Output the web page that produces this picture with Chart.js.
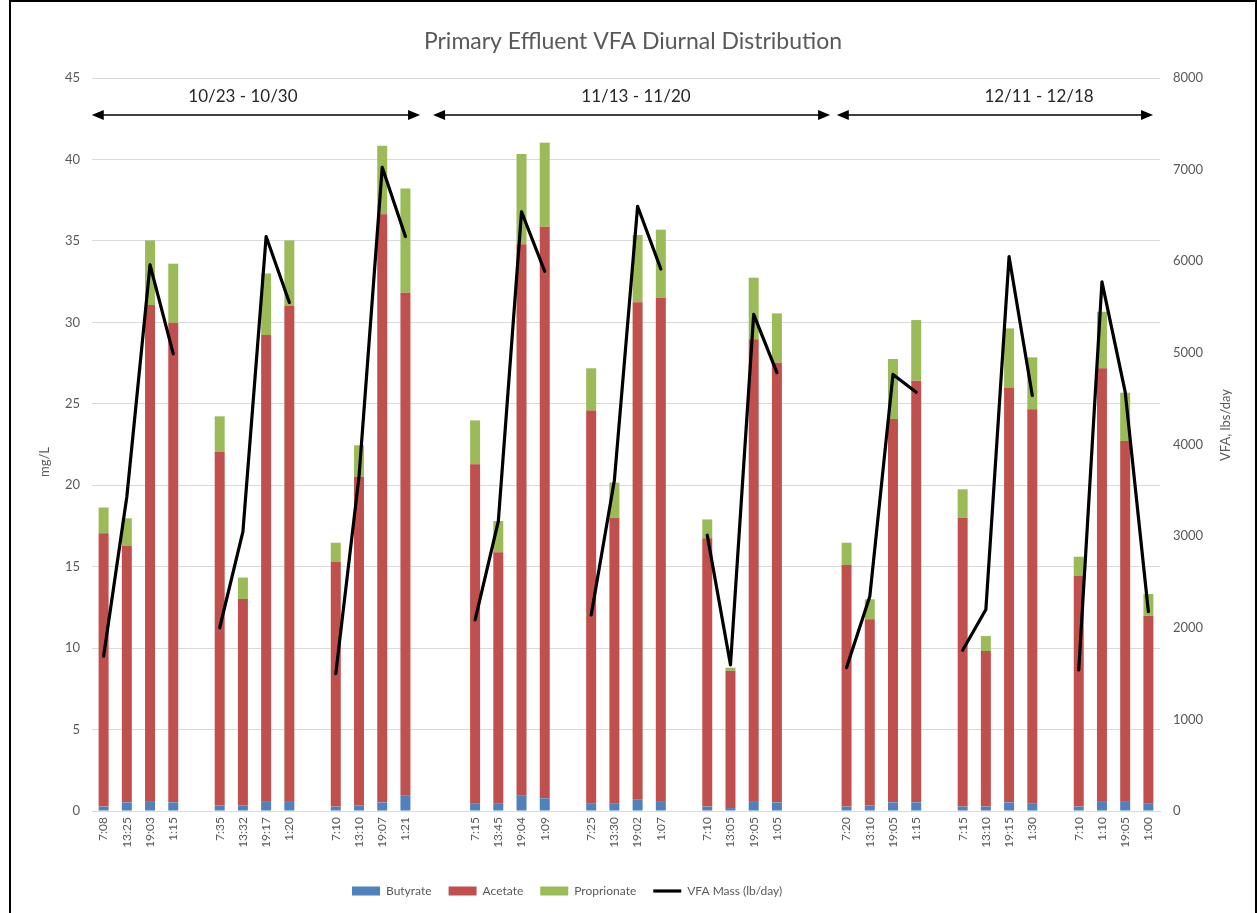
<!DOCTYPE html>
<html>
<head>
<meta charset="utf-8">
<script src="https://cdn.jsdelivr.net/npm/chart.js@4.4.0/dist/chart.umd.min.js"></script>
<style>
  html, body { margin: 0; padding: 0; background: #ffffff; }
  #wrap { position: relative; width: 1257px; height: 913px; }
  canvas { display: block; }
</style>
</head>
<body>
<div id="wrap"><canvas id="c" width="1257" height="913"></canvas></div>
<script>
// ---------------- DATA ----------------
const chartTitle = 'Primary Effluent VFA Diurnal Distribution';
const leftAxisTitle = 'mg/L';
const rightAxisTitle = 'VFA, lbs/day';
const dateRanges = ['10/23 - 10/30', '11/13 - 11/20', '12/11 - 12/18'];
const seriesNames = ['Butyrate', 'Acetate', 'Proprionate', 'VFA Mass (lb/day)'];

const sampleTimes = [
  '7:08', '13:25', '19:03', '1:15', '7:35', '13:32', '19:17', '1:20', '7:10', '13:10', '19:07', '1:21',
  '7:15', '13:45', '19:04', '1:09', '7:25', '13:30', '19:02', '1:07', '7:10', '13:05', '19:05', '1:05',
  '7:20', '13:10', '19:05', '1:15', '7:15', '13:10', '19:15', '1:30', '7:10', '1:10', '19:05', '1:00'
];
const butyrate = [
  0.27, 0.53, 0.61, 0.53, 0.35, 0.35, 0.61, 0.61, 0.27, 0.35, 0.53, 0.94,
  0.45, 0.45, 0.94, 0.78, 0.45, 0.45, 0.69, 0.61, 0.27, 0.18, 0.61, 0.53,
  0.27, 0.35, 0.53, 0.53, 0.27, 0.27, 0.53, 0.45, 0.27, 0.61, 0.61, 0.45
];
const acetate = [
  16.78, 15.75, 30.45, 29.45, 21.69, 12.66, 28.61, 30.39, 15.03, 20.17, 36.10, 30.88,
  20.83, 15.43, 33.85, 35.09, 24.13, 17.54, 30.54, 30.88, 16.47, 8.43, 28.35, 26.99,
  14.83, 11.42, 23.53, 25.89, 17.72, 9.55, 25.47, 24.21, 14.17, 26.57, 22.10, 11.54
];
const proprionate = [
  1.58, 1.69, 3.97, 3.62, 2.19, 1.32, 3.78, 4.03, 1.17, 1.93, 4.21, 6.40,
  2.70, 1.92, 5.54, 5.16, 2.60, 2.17, 4.13, 4.20, 1.16, 0.19, 3.78, 3.03,
  1.37, 1.23, 3.69, 3.72, 1.76, 0.92, 3.63, 3.19, 1.17, 3.47, 2.97, 1.33
];
const vfaMass = [
  1690, 3430, 5960, 4990, 2000, 3050, 6270, 5550, 1500, 3650, 7025, 6270,
  2085, 3160, 6540, 5890, 2140, 3610, 6600, 5915, 3010, 1595, 5420, 4785,
  1565, 2340, 4765, 4570, 1755, 2200, 6050, 4535, 1540, 5775, 4575, 2175
];
const SAMPLES_PER_RUN = 4;
const RUNS_PER_PERIOD = 3;

// ---------------- BUILD CATEGORIES (with empty spacer slots) ----------------
const labels = [];
const idxMap = [];
let k = 0;
for (let p = 0; p < dateRanges.length; p++) {
  for (let r = 0; r < RUNS_PER_PERIOD; r++) {
    for (let j = 0; j < SAMPLES_PER_RUN; j++) { labels.push(sampleTimes[k]); idxMap.push(k); k++; }
    if (r < RUNS_PER_PERIOD - 1) { labels.push(''); idxMap.push(null); }
  }
  if (p < dateRanges.length - 1) { labels.push('', ''); idxMap.push(null, null); }
}
const spread = arr => idxMap.map(i => (i === null ? null : arr[i]));

// ---------------- STYLE ----------------
const FONT = 'Lato, "Open Sans", "DejaVu Sans", sans-serif';
const TEXT = '#595959';
const GRID = '#d9d9d9';
const COLORS = ['#4F81BD', '#C0504D', '#9BBB59', '#000000'];
// period bracket positions in category-index units: [start, end, label centre]
const bracketPos = [[-0.51, 13.63, 6.0], [14.19, 31.29, 22.93], [31.58, 45.2, 40.29]];

const decor = {
  id: 'decor',
  afterLayout(chart) {
    const lg = chart.legend;
    if (!lg) return;
    const pad = lg.options.labels.padding;
    const dx = 352 - (lg.left + pad);
    lg.left += dx; lg.right += dx;
    const dy = (891 - 6 - pad) - lg.top;
    lg.top += dy; lg.bottom += dy;
  },
  afterDraw(chart) {
    const ctx = chart.ctx;
    const xs = chart.scales.x;
    const area = chart.chartArea;
    ctx.save();
    // frame
    ctx.strokeStyle = '#000000';
    ctx.lineWidth = 2;
    ctx.strokeRect(10, 1, 1246, 950);
    // title
    ctx.fillStyle = TEXT;
    ctx.textAlign = 'center';
    ctx.textBaseline = 'middle';
    ctx.font = '23px ' + FONT;
    ctx.fillText(chartTitle, 633, 42);
    // axis titles
    ctx.font = '13px ' + FONT;
    ctx.save();
    ctx.translate(45, 462);
    ctx.rotate(-Math.PI / 2);
    ctx.fillText(leftAxisTitle, 0, 0);
    ctx.restore();
    ctx.save();
    ctx.translate(1226, 425);
    ctx.rotate(-Math.PI / 2);
    ctx.fillText(rightAxisTitle, 0, 0);
    ctx.restore();
    // period brackets
    const yArrow = area.top + 37;
    const yText = area.top + 19;
    ctx.strokeStyle = '#000000';
    ctx.fillStyle = '#000000';
    ctx.lineWidth = 1.5;
    bracketPos.forEach((b, i) => {
      const x1 = xs.getPixelForValue(b[0]);
      const x2 = xs.getPixelForValue(b[1]);
      ctx.beginPath();
      ctx.moveTo(x1 + 8, yArrow); ctx.lineTo(x2 - 8, yArrow); ctx.stroke();
      ctx.beginPath();
      ctx.moveTo(x1, yArrow); ctx.lineTo(x1 + 12, yArrow - 5); ctx.lineTo(x1 + 12, yArrow + 5); ctx.closePath(); ctx.fill();
      ctx.beginPath();
      ctx.moveTo(x2, yArrow); ctx.lineTo(x2 - 12, yArrow - 5); ctx.lineTo(x2 - 12, yArrow + 5); ctx.closePath(); ctx.fill();
      ctx.save();
      ctx.fillStyle = '#262626';
      ctx.font = '17px ' + FONT;
      ctx.textAlign = 'center';
      ctx.textBaseline = 'middle';
      ctx.fillText(dateRanges[i], xs.getPixelForValue(b[2]), yText);
      ctx.restore();
    });
    ctx.restore();
  }
};

const barCommon = { stack: 's', yAxisID: 'y', barPercentage: 0.43, categoryPercentage: 1.0, borderWidth: 0, pointStyle: 'rect' };

new Chart(document.getElementById('c'), {
  type: 'bar',
  data: {
    labels: labels,
    datasets: [
      Object.assign({ label: seriesNames[0], data: spread(butyrate), backgroundColor: COLORS[0] }, barCommon),
      Object.assign({ label: seriesNames[1], data: spread(acetate), backgroundColor: COLORS[1] }, barCommon),
      Object.assign({ label: seriesNames[2], data: spread(proprionate), backgroundColor: COLORS[2] }, barCommon),
      {
        type: 'line', label: seriesNames[3], data: spread(vfaMass), yAxisID: 'y1',
        borderColor: COLORS[3], backgroundColor: COLORS[3], borderWidth: 3.2,
        pointRadius: 0, pointHoverRadius: 0, tension: 0, spanGaps: false,
        borderJoinStyle: 'round', borderCapStyle: 'round', pointStyle: 'line', order: -1
      }
    ]
  },
  options: {
    responsive: false,
    animation: false,
    devicePixelRatio: 1,
    layout: { padding: { top: 78, left: 0, right: 0, bottom: 4 } },
    plugins: {
      title: { display: false },
      tooltip: { enabled: false },
      legend: {
        display: true,
        position: 'bottom',
        align: 'start',
        labels: {
          usePointStyle: true,
          pointStyleWidth: 28,
          boxHeight: 9,
          padding: 17,
          color: TEXT,
          font: { family: FONT, size: 12 },
          sort: (a, b) => a.datasetIndex - b.datasetIndex
        }
      }
    },
    scales: {
      x: {
        stacked: true,
        grid: { display: false, drawTicks: false },
        border: { display: true, color: GRID, width: 1 },
        ticks: { autoSkip: false, minRotation: 90, maxRotation: 90, padding: 6, color: TEXT, font: { family: FONT, size: 12 } },
        afterFit: s => { s.height = 913 - 811 - s.chart.legend.height - 4; }
      },
      y: {
        position: 'left',
        stacked: true,
        min: 0, max: 45,
        ticks: { stepSize: 5, padding: 12, color: TEXT, font: { family: FONT, size: 13 } },
        grid: { color: GRID, lineWidth: 1, drawTicks: false },
        border: { display: false },
        afterFit: s => { s.width = 92; }
      },
      y1: {
        position: 'right',
        min: 0, max: 8000,
        ticks: { stepSize: 1000, padding: 13, color: TEXT, font: { family: FONT, size: 13 }, callback: v => String(v) },
        grid: { display: false, drawTicks: false },
        border: { display: false },
        afterFit: s => { s.width = 97; }
      }
    }
  },
  plugins: [decor]
});
</script>
</body>
</html>
